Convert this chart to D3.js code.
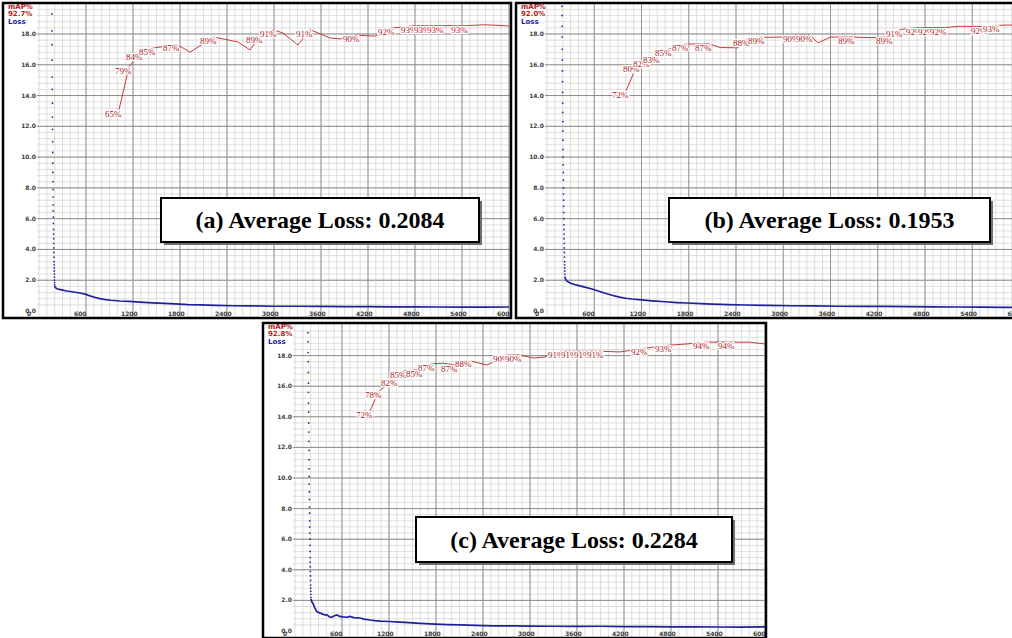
<!DOCTYPE html>
<html lang="en">
<head>
<meta charset="UTF-8">
<title>Loss / mAP training charts</title>
<script src="https://d3js.org/d3.v7.min.js"></script>
<style>
  html, body { margin:0; background:#fff; }
  svg { display:block; }
  .tick-lab { font: bold 6px "DejaVu Sans", sans-serif; fill:#3c3c3c; }
  .map-lab { font: 9px "Liberation Serif", serif; fill:#a81818; stroke:#fff; stroke-width:2.4px; paint-order:stroke; stroke-linejoin:round; }
  .head { font: bold 7px "DejaVu Sans", sans-serif; }
  .caption { font: bold 24px "Liberation Serif", "Times New Roman", serif; fill:#000; }
</style>
</head>
<body>
<svg id="chart" width="1012" height="638"></svg>
<script>
// axis ticks (iterations / loss)
const xTicks = [0, 600, 1200, 1800, 2400, 3000, 3600, 4200, 4800, 5400, 6000];
const yTicks = [0, 2, 4, 6, 8, 10, 12, 14, 16, 18];

const captions = ["(a) Average Loss: 0.2084", "(b) Average Loss: 0.1953", "(c) Average Loss: 0.2284"];
const bestMap = ["92.7%", "92.0%", "92.8%"];

// ---- (a) ----
const spikeStartA = 165;
const spikeA = [19.3, 18.2, 17.3, 16.3, 15.2, 14.4, 13.5, 12.6, 11.8, 11.0, 10.3, 9.6, 9.0, 8.4, 7.9, 7.4, 6.9, 6.5, 6.1,
  5.7, 5.3, 5.0, 4.7, 4.4, 4.1, 3.8, 3.5, 3.2, 3.0, 2.8, 2.6, 2.4, 2.2, 2.0, 1.85, 1.7, 1.6];
const lossItersA = [200, 230, 260, 300, 357, 420, 523, 600, 651, 720, 779, 850, 920, 1034, 1150, 1289, 1450, 1600, 1736,
  1900, 2055, 2250, 2477, 2700, 3000, 3300, 3600, 3900, 4200, 4500, 4800, 5100, 5400, 5700, 6000];
const lossValsA = [1.55, 1.45, 1.4, 1.36, 1.3, 1.25, 1.17, 1.08, 0.98, 0.88, 0.8, 0.74, 0.7, 0.65, 0.62, 0.58, 0.53, 0.49, 0.46,
  0.42, 0.4, 0.37, 0.34, 0.33, 0.31, 0.31, 0.3, 0.29, 0.29, 0.27, 0.27, 0.26, 0.25, 0.25, 0.26];
const mapItersA = [1021, 1149, 1289, 1455, 1762, 1928, 2234, 2540, 2694, 2821, 3000, 3115, 3306, 3460, 3715, 3843, 4060,
  4289, 4506, 4800, 4966, 5132, 5440, 5700, 6000];
const mapValsA = [65.4, 79.3, 83.8, 85.4, 86.6, 84.1, 89.0, 87.4, 84.8, 89.4, 91.3, 90.3, 86.4, 91.4, 88.7, 88.4, 89.6,
  89.3, 91.9, 92.7, 92.7, 92.7, 92.7, 93.0, 92.6];
const mapLabelA = [1, 1, 1, 1, 1, 0, 1, 0, 0, 1, 1, 0, 0, 1, 0, 0, 1, 0, 1, 1, 1, 1, 1, 0, 0];

// ---- (b) ----
const spikeStartB = 190;
const spikeB = [19.8, 19.2, 18.5, 17.8, 17.0, 16.3, 15.6, 14.9, 14.2, 13.5, 12.9, 12.3, 11.7, 11.1, 10.5, 10.0, 9.5, 9.0,
  8.5, 8.0, 7.6, 7.2, 6.8, 6.4, 6.0, 5.6, 5.3, 5.0, 4.7, 4.4, 4.1, 3.8, 3.5, 3.2, 3.0, 2.8, 2.6, 2.4, 2.2];
const lossItersB = [228, 250, 300, 350, 406, 480, 571, 650, 740, 825, 920, 1000, 1079, 1200, 1333, 1500, 1650, 1778, 1950,
  2095, 2300, 2514, 2800, 3100, 3400, 3700, 4000, 4300, 4600, 4900, 5200, 5500, 5800, 6000];
const lossValsB = [2.15, 1.95, 1.8, 1.72, 1.65, 1.55, 1.43, 1.3, 1.15, 1.02, 0.9, 0.83, 0.78, 0.72, 0.66, 0.6, 0.55, 0.52,
  0.48, 0.45, 0.42, 0.39, 0.36, 0.34, 0.33, 0.31, 0.3, 0.3, 0.28, 0.27, 0.26, 0.25, 0.24, 0.24];
const mapItersB = [1003, 1143, 1270, 1397, 1549, 1765, 2057, 2200, 2420, 2540, 2730, 3000, 3175, 3340, 3441, 3600, 3873,
  4100, 4356, 4483, 4600, 4736, 4889, 5041, 5250, 5562, 5714, 5850, 6000];
const mapValsB = [71.5, 79.9, 81.5, 82.8, 85.1, 86.7, 86.8, 85.6, 85.5, 88.4, 88.9, 89.0, 89.6, 89.6, 87.1, 89.0, 89.0,
  88.8, 89.0, 91.4, 91.8, 92.1, 92.1, 92.1, 92.5, 92.4, 92.8, 92.9, 92.9];
const mapLabelB = [1, 1, 1, 1, 1, 1, 1, 0, 0, 1, 1, 0, 1, 1, 0, 0, 1, 0, 1, 1, 0, 1, 1, 1, 0, 1, 1, 0, 0];

// ---- (c) ----
const spikeStartC = 166;
const spikeC = [19.5, 18.9, 18.2, 17.6, 16.9, 16.2, 15.6, 14.9, 14.3, 13.6, 13.0, 12.4, 11.8, 11.2, 10.6, 10.1, 9.6, 9.1,
  8.6, 8.1, 7.7, 7.2, 6.8, 6.4, 6.0, 5.6, 5.2, 4.8, 4.5, 4.2, 3.9, 3.6, 3.3, 3.0, 2.8, 2.6, 2.4, 2.2];
const lossItersC = [205, 215, 230, 250, 281, 330, 380, 409, 440, 472, 500, 536, 570, 610, 664, 700, 750, 830, 880, 957,
  1020, 1085, 1200, 1340, 1450, 1600, 1787, 1950, 2106, 2300, 2528, 2800, 3000, 3300, 3600, 3900, 4200, 4500, 4800,
  5100, 5400, 5700, 6000];
const lossValsC = [2.1, 1.9, 1.8, 1.55, 1.25, 1.15, 1.05, 1.05, 0.92, 0.9, 1.0, 1.05, 0.95, 0.92, 0.9, 0.95, 0.88, 0.85,
  0.78, 0.72, 0.68, 0.65, 0.62, 0.58, 0.55, 0.5, 0.45, 0.42, 0.4, 0.37, 0.34, 0.33, 0.32, 0.31, 0.3, 0.31, 0.29, 0.28,
  0.27, 0.27, 0.26, 0.25, 0.27];
const mapItersC = [957, 1072, 1277, 1391, 1596, 1749, 1900, 2043, 2221, 2451, 2706, 2860, 3050, 3200, 3409, 3574, 3740,
  3906, 4150, 4468, 4774, 5000, 5260, 5579, 5800, 6000];
const mapValsC = [71.9, 78.4, 82.4, 85.0, 85.4, 87.3, 87.5, 86.9, 88.4, 86.9, 90.2, 90.2, 89.2, 89.6, 91.4, 91.4, 91.4,
  91.4, 91.2, 92.4, 93.4, 93.8, 94.4, 94.4, 94.4, 93.8];
const mapLabelC = [1, 1, 1, 1, 1, 1, 0, 1, 1, 0, 1, 1, 0, 0, 1, 1, 1, 1, 0, 1, 1, 0, 1, 1, 0, 0];

const panels = [
  { id:"a", box:[3, 3, 508, 315], x0:39, x1:509, y0:311, yTop:3.2, cap:[161, 198, 318, 44],
    spikeStart:spikeStartA, spike:spikeA, lossIt:lossItersA, loss:lossValsA,
    mapIt:mapItersA, map:mapValsA, mapLab:mapLabelA, n:0 },
  { id:"b", box:[516, 3, 500, 315], x0:547, x1:1019.5, y0:311, yTop:3.2, cap:[669, 198, 321, 44],
    spikeStart:spikeStartB, spike:spikeB, lossIt:lossItersB, loss:lossValsB,
    mapIt:mapItersB, map:mapValsB, mapLab:mapLabelB, n:1 },
  { id:"c", box:[263, 323, 503, 315], x0:295, x1:765, y0:631, yTop:325, cap:[416, 517, 316, 45],
    spikeStart:spikeStartC, spike:spikeC, lossIt:lossItersC, loss:lossValsC,
    mapIt:mapItersC, map:mapValsC, mapLab:mapLabelC, n:2 }
];

const svg = d3.select("#chart");
const defs = svg.append("defs");
const fmtY = d3.format(".1f");

function drawPanel(p) {
  const [bx, by, bw, bh] = p.box;
  defs.append("clipPath").attr("id", "clip-" + p.id)
    .append("rect").attr("x", bx).attr("y", by).attr("width", bw).attr("height", bh);

  const g = svg.append("g");
  const inner = g.append("g").attr("clip-path", `url(#clip-${p.id})`);
  inner.append("rect").attr("x", bx).attr("y", by).attr("width", bw).attr("height", bh).attr("fill", "#fff");

  const x = d3.scaleLinear().domain([0, 6000]).range([p.x0, p.x1]);
  const y = d3.scaleLinear().domain([0, 20]).range([p.y0, p.yTop]);
  const yMap = d3.scaleLinear().domain([0, 100]).range([p.y0, p.yTop]);

  // fine grid
  inner.append("g").selectAll("line").data(d3.range(0, 6001, 100)).join("line")
    .attr("x1", d => x(d)).attr("x2", d => x(d)).attr("y1", by).attr("y2", by + bh)
    .attr("stroke", "#d6d6d6").attr("stroke-width", 0.8);
  inner.append("g").selectAll("line").data(d3.range(0.4, 20, 0.4)).join("line")
    .attr("x1", p.x0 - 2).attr("x2", bx + bw).attr("y1", d => y(d)).attr("y2", d => y(d))
    .attr("stroke", "#d6d6d6").attr("stroke-width", 0.8);
  // main grid
  inner.append("g").selectAll("line").data(xTicks.slice(1)).join("line")
    .attr("x1", d => x(d)).attr("x2", d => x(d)).attr("y1", by).attr("y2", by + bh)
    .attr("stroke", "#949494").attr("stroke-width", 1);
  inner.append("g").selectAll("line").data(yTicks.slice(1)).join("line")
    .attr("x1", p.x0 - 2).attr("x2", bx + bw).attr("y1", d => y(d)).attr("y2", d => y(d))
    .attr("stroke", "#8c8c8c").attr("stroke-width", 1);

  // tick labels
  inner.append("g").selectAll("text").data(yTicks).join("text")
    .attr("class", "tick-lab").attr("x", p.x0 - 3).attr("y", d => y(d) + 2)
    .attr("text-anchor", "end").text(d => fmtY(d));
  inner.append("g").selectAll("text").data(xTicks).join("text")
    .attr("class", "tick-lab").attr("x", d => x(d) - 12).attr("y", p.y0 + 5)
    .text(d => d);

  // loss: early per-iteration dots, then the smoothed run
  inner.append("g").selectAll("circle").data(p.spike).join("circle")
    .attr("cx", (d, i) => x(p.spikeStart + i)).attr("cy", d => y(d)).attr("r", 0.9)
    .attr("fill", "#2a2aa6");
  const lossPts = p.lossIt.map((it, i) => [it, p.loss[i]]);
  inner.append("path").datum(lossPts)
    .attr("fill", "none").attr("stroke", "#20209c").attr("stroke-width", 1.7)
    .attr("d", d3.line().x(d => x(d[0])).y(d => y(d[1])));

  // mAP line + labels (white halo like darknet)
  const mapPts = p.mapIt.map((it, i) => ({ it, v: p.map[i], lab: p.mapLab[i] }));
  inner.append("path").datum(mapPts)
    .attr("fill", "none").attr("stroke", "#bf2626").attr("stroke-width", 0.9)
    .attr("d", d3.line().x(d => x(d.it)).y(d => yMap(d.v)));
  inner.append("g").selectAll("text").data(mapPts.filter(d => d.lab)).join("text")
    .attr("class", "map-lab").attr("x", d => x(d.it) - 14).attr("y", d => yMap(d.v) + 7)
    .text(d => Math.round(d.v) + "%");

  // header
  inner.append("text").attr("class", "head").attr("x", bx + 5).attr("y", by + 6)
    .attr("fill", "#b41c1c").text("mAP%");
  inner.append("text").attr("class", "head").attr("x", bx + 5).attr("y", by + 12.5)
    .attr("fill", "#b41c1c").text(bestMap[p.n]);
  inner.append("text").attr("class", "head").attr("x", bx + 5).attr("y", by + 20.5)
    .attr("fill", "#2020a0").text("Loss");

  // frame
  g.append("rect").attr("x", bx).attr("y", by).attr("width", bw).attr("height", bh)
    .attr("fill", "none").attr("stroke", "#000").attr("stroke-width", 2.5);

  // caption box
  const [cx, cy, cw, ch] = p.cap;
  g.append("rect").attr("x", cx + 3).attr("y", cy + 3).attr("width", cw).attr("height", ch).attr("fill", "#6e6e6e");
  g.append("rect").attr("x", cx).attr("y", cy).attr("width", cw).attr("height", ch)
    .attr("fill", "#fff").attr("stroke", "#000").attr("stroke-width", 2);
  g.append("text").attr("class", "caption").attr("x", cx + cw / 2).attr("y", cy + ch / 2 + 8)
    .attr("text-anchor", "middle").text(captions[p.n]);
}

panels.forEach(drawPanel);
</script>
</body>
</html>
